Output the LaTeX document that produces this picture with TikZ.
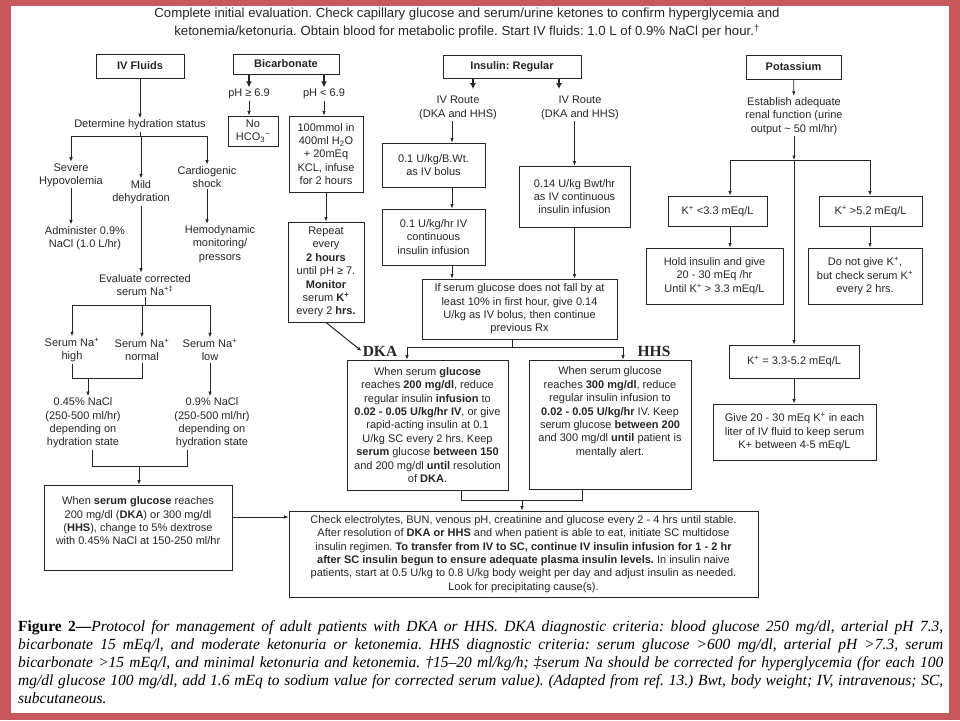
\documentclass[tikz,border=0pt]{standalone}
\usepackage{fontspec}
\setmainfont{Liberation Sans}
\newfontfamily\capfont{Liberation Serif}
\usetikzlibrary{arrows.meta, positioning}
\definecolor{slide}{RGB}{199,88,92}
\definecolor{ink}{RGB}{38,38,38}
\frenchspacing

\begin{document}
\begin{tikzpicture}[
  x=1pt, y=-1pt,
  sz/.style 2 args={minimum width=#1pt, minimum height=#2pt},
  box/.style={draw=ink, line width=0.9pt, align=center, inner sep=2pt, text=ink, font=\fontsize{11}{13.4}\selectfont},
  header/.style={box, font=\fontsize{11}{13.4}\selectfont\bfseries},
  txt/.style={align=center, inner sep=1.5pt, text=ink, font=\fontsize{11}{13.4}\selectfont},
  tag/.style={inner sep=1pt, text=ink, font=\capfont\fontsize{15.5}{18}\selectfont\bfseries},
  arrow/.style={-{Latex[length=4.5pt, width=3.5pt]}, draw=ink, line width=0.7pt},
  bigarrow/.style={-{Latex[length=6pt, width=6pt]}, draw=ink, line width=1.3pt},
  link/.style={draw=ink, line width=0.7pt}
]
\useasboundingbox (0,0) rectangle (960,720);
\fill[slide] (0,0) rectangle (960,720);
\fill[white] (11,6) rectangle (949,713);

\node[txt, font=\fontsize{13.2}{18}\selectfont] (intro) at (467,23) {Complete initial evaluation. Check capillary glucose and serum/urine ketones to confirm hyperglycemia and\\ketonemia/ketonuria. Obtain blood for metabolic profile. Start IV fluids: 1.0 L of 0.9\% NaCl per hour.\textsuperscript{†}};

\node[header, sz={88}{24}] (ivf) at (140,66) {IV Fluids};
\node[header, sz={106}{20}] (bic) at (286,64) {Bicarbonate};
\node[header, sz={138}{23}] (ins) at (512,66.5) {Insulin: Regular};
\node[header, sz={95}{24}] (pot) at (793.5,67) {Potassium};

\node[txt] (hyd) at (140,125) {Determine hydration status};
\coordinate (hydfork) at (140,136);
\node[txt] (severe) at (71,175) {Severe\\Hypovolemia};
\node[txt] (mild) at (141,192) {Mild\\dehydration};
\node[txt] (cardio) at (207,177) {Cardiogenic\\shock};
\node[txt] (admin) at (85,238) {Administer 0.9\%\\NaCl (1.0 L/hr)};
\node[txt] (hemo) at (220,244) {Hemodynamic\\monitoring/\\pressors};
\node[txt] (evalna) at (145,285) {Evaluate corrected\\serum Na\textsuperscript{+‡}};
\coordinate (nafork) at (145,305);
\node[txt] (nahigh) at (72,350) {Serum Na\textsuperscript{+}\\high};
\node[txt] (nanorm) at (142,350) {Serum Na\textsuperscript{+}\\normal};
\node[txt] (nalow) at (210,350) {Serum Na\textsuperscript{+}\\low};
\coordinate (hnjoin) at (88,378);
\node[txt] (halfnacl) at (83,423) {0.45\% NaCl\\(250-500 ml/hr)\\depending on\\hydration state};
\node[txt] (fullnacl) at (212,423) {0.9\% NaCl\\(250-500 ml/hr)\\depending on\\hydration state};
\coordinate (naclL) at (92,466);
\coordinate (naclR) at (187,466);
\coordinate (nacljoin) at (139,466);
\node[box, sz={188}{85}] (dextrose) at (138,527.5) {When \textbf{serum glucose}  reaches\\200 mg/dl (\textbf{DKA}) or 300 mg/dl\\(\textbf{HHS}), change to 5\% dextrose\\with 0.45\% NaCl at 150-250 ml/hr\\~};

\node[txt] (phhigh) at (249,94) {pH ≥ 6.9};
\node[txt] (phlow) at (324,94) {pH < 6.9};
\node[box, sz={50}{30}] (nohco) at (253,131) {No\\HCO\textsubscript{3}\textsuperscript{−}};
\node[box, sz={74}{76}] (kcl) at (326,154) {100mmol in\\400ml H\textsubscript{2}O\\+ 20mEq\\KCL, infuse\\for 2 hours};
\node[box, sz={76}{100}] (repeat) at (326,272) {Repeat\\every\\\textbf{2 hours}\\until pH ≥ 7.\\\textbf{Monitor}\\serum \textbf{K\textsuperscript{+}}\\every 2 \textbf{hrs.}};
\node[tag] (dkatag) at (380,351) {DKA};
\node[tag] (hhstag) at (654,351) {HHS};

\coordinate (insL) at (473,89);
\coordinate (insR) at (559,89);
\coordinate (bolusx) at (452,0);
\node[txt] (routeL) at (458,108) {IV Route\\(DKA and HHS)};
\node[txt] (routeR) at (580,108) {IV Route\\(DKA and HHS)};
\node[box, sz={103}{44}] (bolus) at (433.5,165) {0.1 U/kg/B.Wt.\\as IV bolus};
\node[box, sz={103}{56}] (infuse) at (433.5,237) {0.1 U/kg/hr IV\\continuous\\insulin infusion};
\node[box, sz={111}{61}] (infuse14) at (574.5,196.5) {0.14 U/kg Bwt/hr\\as IV continuous\\insulin infusion};
\node[box, sz={195}{60}] (nofall) at (519.5,309) {If serum glucose does not fall by at\\least 10\% in first hour, give 0.14\\U/kg as IV  bolus, then continue\\previous Rx};
\coordinate (splitx) at (512,347);
\coordinate (dkax) at (407,347);
\coordinate (hhsx) at (623,347);
\node[box, sz={161}{130}] (dkabox) at (427.5,425) {When serum \textbf{glucose}\\reaches \textbf{200 mg/dl}, reduce\\regular insulin \textbf{infusion} to\\\textbf{0.02 - 0.05 U/kg/hr IV}, or give\\rapid-acting insulin at 0.1\\U/kg SC every 2 hrs. Keep\\\textbf{serum} glucose \textbf{between 150}\\and 200 mg/dl \textbf{until} resolution\\of \textbf{DKA}.};
\node[box, sz={162}{129}] (hhsbox) at (610,424.5) {When serum glucose\\reaches \textbf{300 mg/dl}, reduce\\regular insulin infusion to\\\textbf{0.02 - 0.05 U/kg/hr} IV.  Keep\\serum glucose \textbf{between 200}\\and 300 mg/dl \textbf{until} patient is\\mentally alert.\\~\\~};
\coordinate (dkadrop) at (461,500);
\coordinate (hhsdrop) at (582,500);
\coordinate (mergex) at (522,500);
\node[box, sz={469}{86}] (monitor) at (523.5,554) {Check electrolytes, BUN, venous pH, creatinine and glucose every 2 - 4 hrs until stable.\\After resolution of \textbf{DKA or HHS} and when patient is able to eat, initiate SC multidose\\insulin regimen. \textbf{To transfer from IV to SC, continue IV insulin infusion for 1 - 2 hr}\\\textbf{after SC insulin begun to ensure adequate plasma insulin levels.}  In insulin naive\\patients, start at 0.5 U/kg to 0.8 U/kg body weight per day and adjust insulin as needed.\\Look for precipitating cause(s).};
\coordinate (feedy) at (0,517);

\node[txt] (renal) at (794,116) {Establish adequate\\renal function (urine\\output \textasciitilde{} 50 ml/hr)};
\coordinate (kfork) at (794,160);
\coordinate (klowx) at (730,160);
\coordinate (khighx) at (870,160);
\node[box, sz={99}{30}] (klow) at (717.5,211) {K\textsuperscript{+} <3.3 mEq/L};
\node[box, sz={103}{30}] (khigh) at (870.5,211) {K\textsuperscript{+} >5.2 mEq/L};
\node[box, sz={137}{56}] (hold) at (714.5,276) {Hold insulin and give\\20 - 30 mEq /hr\\Until K\textsuperscript{+} > 3.3 mEq/L};
\node[box, sz={114}{56}] (nogive) at (865,276) {Do not give K\textsuperscript{+},\\but check serum K\textsuperscript{+}\\every 2 hrs.};
\node[box, sz={130}{33}] (knorm) at (794,361.5) {K\textsuperscript{+} = 3.3-5.2 mEq/L};
\node[box, sz={163}{56}] (addk) at (794.5,432) {Give 20 - 30 mEq K\textsuperscript{+} in each\\liter of IV  fluid to keep serum\\K+ between 4-5 mEq/L};

\node[anchor=north west, inner sep=0pt, align=left, text=black, font=\capfont\fontsize{15.5}{18}\selectfont\itshape] (caption) at (18,620) {\makebox[925pt][s]{{\upshape\bfseries Figure 2—}Protocol for management of adult patients with DKA or HHS. DKA diagnostic criteria: blood glucose 250 mg/dl, arterial pH 7.3,}\\\makebox[925pt][s]{bicarbonate 15 mEq/l, and moderate ketonuria or ketonemia. HHS diagnostic criteria: serum glucose >600 mg/dl, arterial pH >7.3, serum}\\\makebox[925pt][s]{bicarbonate >15 mEq/l, and minimal ketonuria and ketonemia. †15–20 ml/kg/h; ‡serum Na should be corrected for hyperglycemia (for each 100}\\\makebox[925pt][s]{mg/dl glucose 100 mg/dl, add 1.6 mEq to sodium value for corrected serum value). (Adapted from ref. 13.) Bwt, body weight; IV, intravenous; SC,}\\subcutaneous.};

\draw[arrow] (ivf) -- (hyd);
\draw[link] (hyd) -- (hydfork);
\draw[link] (severe |- hydfork) -- (cardio |- hydfork);
\draw[arrow] (severe |- hydfork) -- (severe);
\draw[arrow] (mild |- hydfork) -- (mild);
\draw[arrow] (cardio |- hydfork) -- (cardio);
\draw[arrow, line width=1pt] (severe) -- (severe |- admin.north);
\draw[arrow] (cardio) -- (cardio |- hemo.north);
\draw[arrow] (mild) -- (mild |- evalna.north);
\draw[link] (evalna) -- (nafork);
\draw[link] (nahigh |- nafork) -- (nalow |- nafork);
\draw[arrow] (nahigh |- nafork) -- (nahigh);
\draw[arrow] (nanorm |- nafork) -- (nanorm);
\draw[arrow] (nalow |- nafork) -- (nalow);
\draw[link] (nahigh.south) -- (nahigh |- hnjoin) -- (nanorm |- hnjoin) -- (nanorm.south);
\draw[arrow] (hnjoin) -- (hnjoin |- halfnacl.north);
\draw[arrow] (nalow) -- (nalow |- fullnacl.north);
\draw[link] (halfnacl.south -| naclL) -- (naclL) -- (naclR) -- (fullnacl.south -| naclR);
\draw[arrow] (nacljoin) -- (nacljoin |- dextrose.north);
\draw[arrow] (dextrose.east |- feedy) -- (monitor.west |- feedy);

\draw[bigarrow] (bic.south -| phhigh) -- (phhigh);
\draw[bigarrow] (bic.south -| phlow) -- (phlow);
\draw[arrow] (phhigh) -- (phhigh |- nohco.north);
\draw[arrow] (phlow) -- (phlow |- kcl.north);
\draw[arrow] (kcl) -- (repeat);
\draw[arrow, line width=1pt] (repeat.south) -- (dkatag.west);

\draw[bigarrow] (ins.south -| insL) -- (insL);
\draw[bigarrow] (ins.south -| insR) -- (insR);
\draw[arrow] (routeL.south -| bolusx) -- (bolus.north -| bolusx);
\draw[arrow] (bolus.south -| bolusx) -- (infuse.north -| bolusx);
\draw[arrow] (infuse.south -| bolusx) -- (nofall.north -| bolusx);
\draw[arrow] (routeR.south -| infuse14) -- (infuse14.north);
\draw[arrow] (infuse14) -- (infuse14 |- nofall.north);
\draw[link] (nofall.south -| splitx) -- (splitx);
\draw[link] (dkax) -- (hhsx);
\draw[arrow] (dkax) -- (dkax |- dkabox.north);
\draw[arrow] (hhsx) -- (hhsx |- hhsbox.north);
\draw[link] (dkabox.south -| dkadrop) -- (dkadrop) -- (hhsdrop) -- (hhsbox.south -| hhsdrop);
\draw[arrow] (mergex) -- (mergex |- monitor.north);

\draw[arrow] (pot) -- (renal);
\draw[arrow] (renal) -- (kfork);
\draw[link] (klowx) -- (khighx);
\draw[arrow] (klowx) -- (klowx |- klow.north);
\draw[arrow] (khighx) -- (khighx |- khigh.north);
\draw[arrow] (kfork) -- (knorm);
\draw[arrow] (klow.south -| klowx) -- (hold.north -| klowx);
\draw[arrow] (khigh.south -| khighx) -- (nogive.north -| khighx);
\draw[arrow] (knorm) -- (addk.north -| knorm);
\end{tikzpicture}
\end{document}
